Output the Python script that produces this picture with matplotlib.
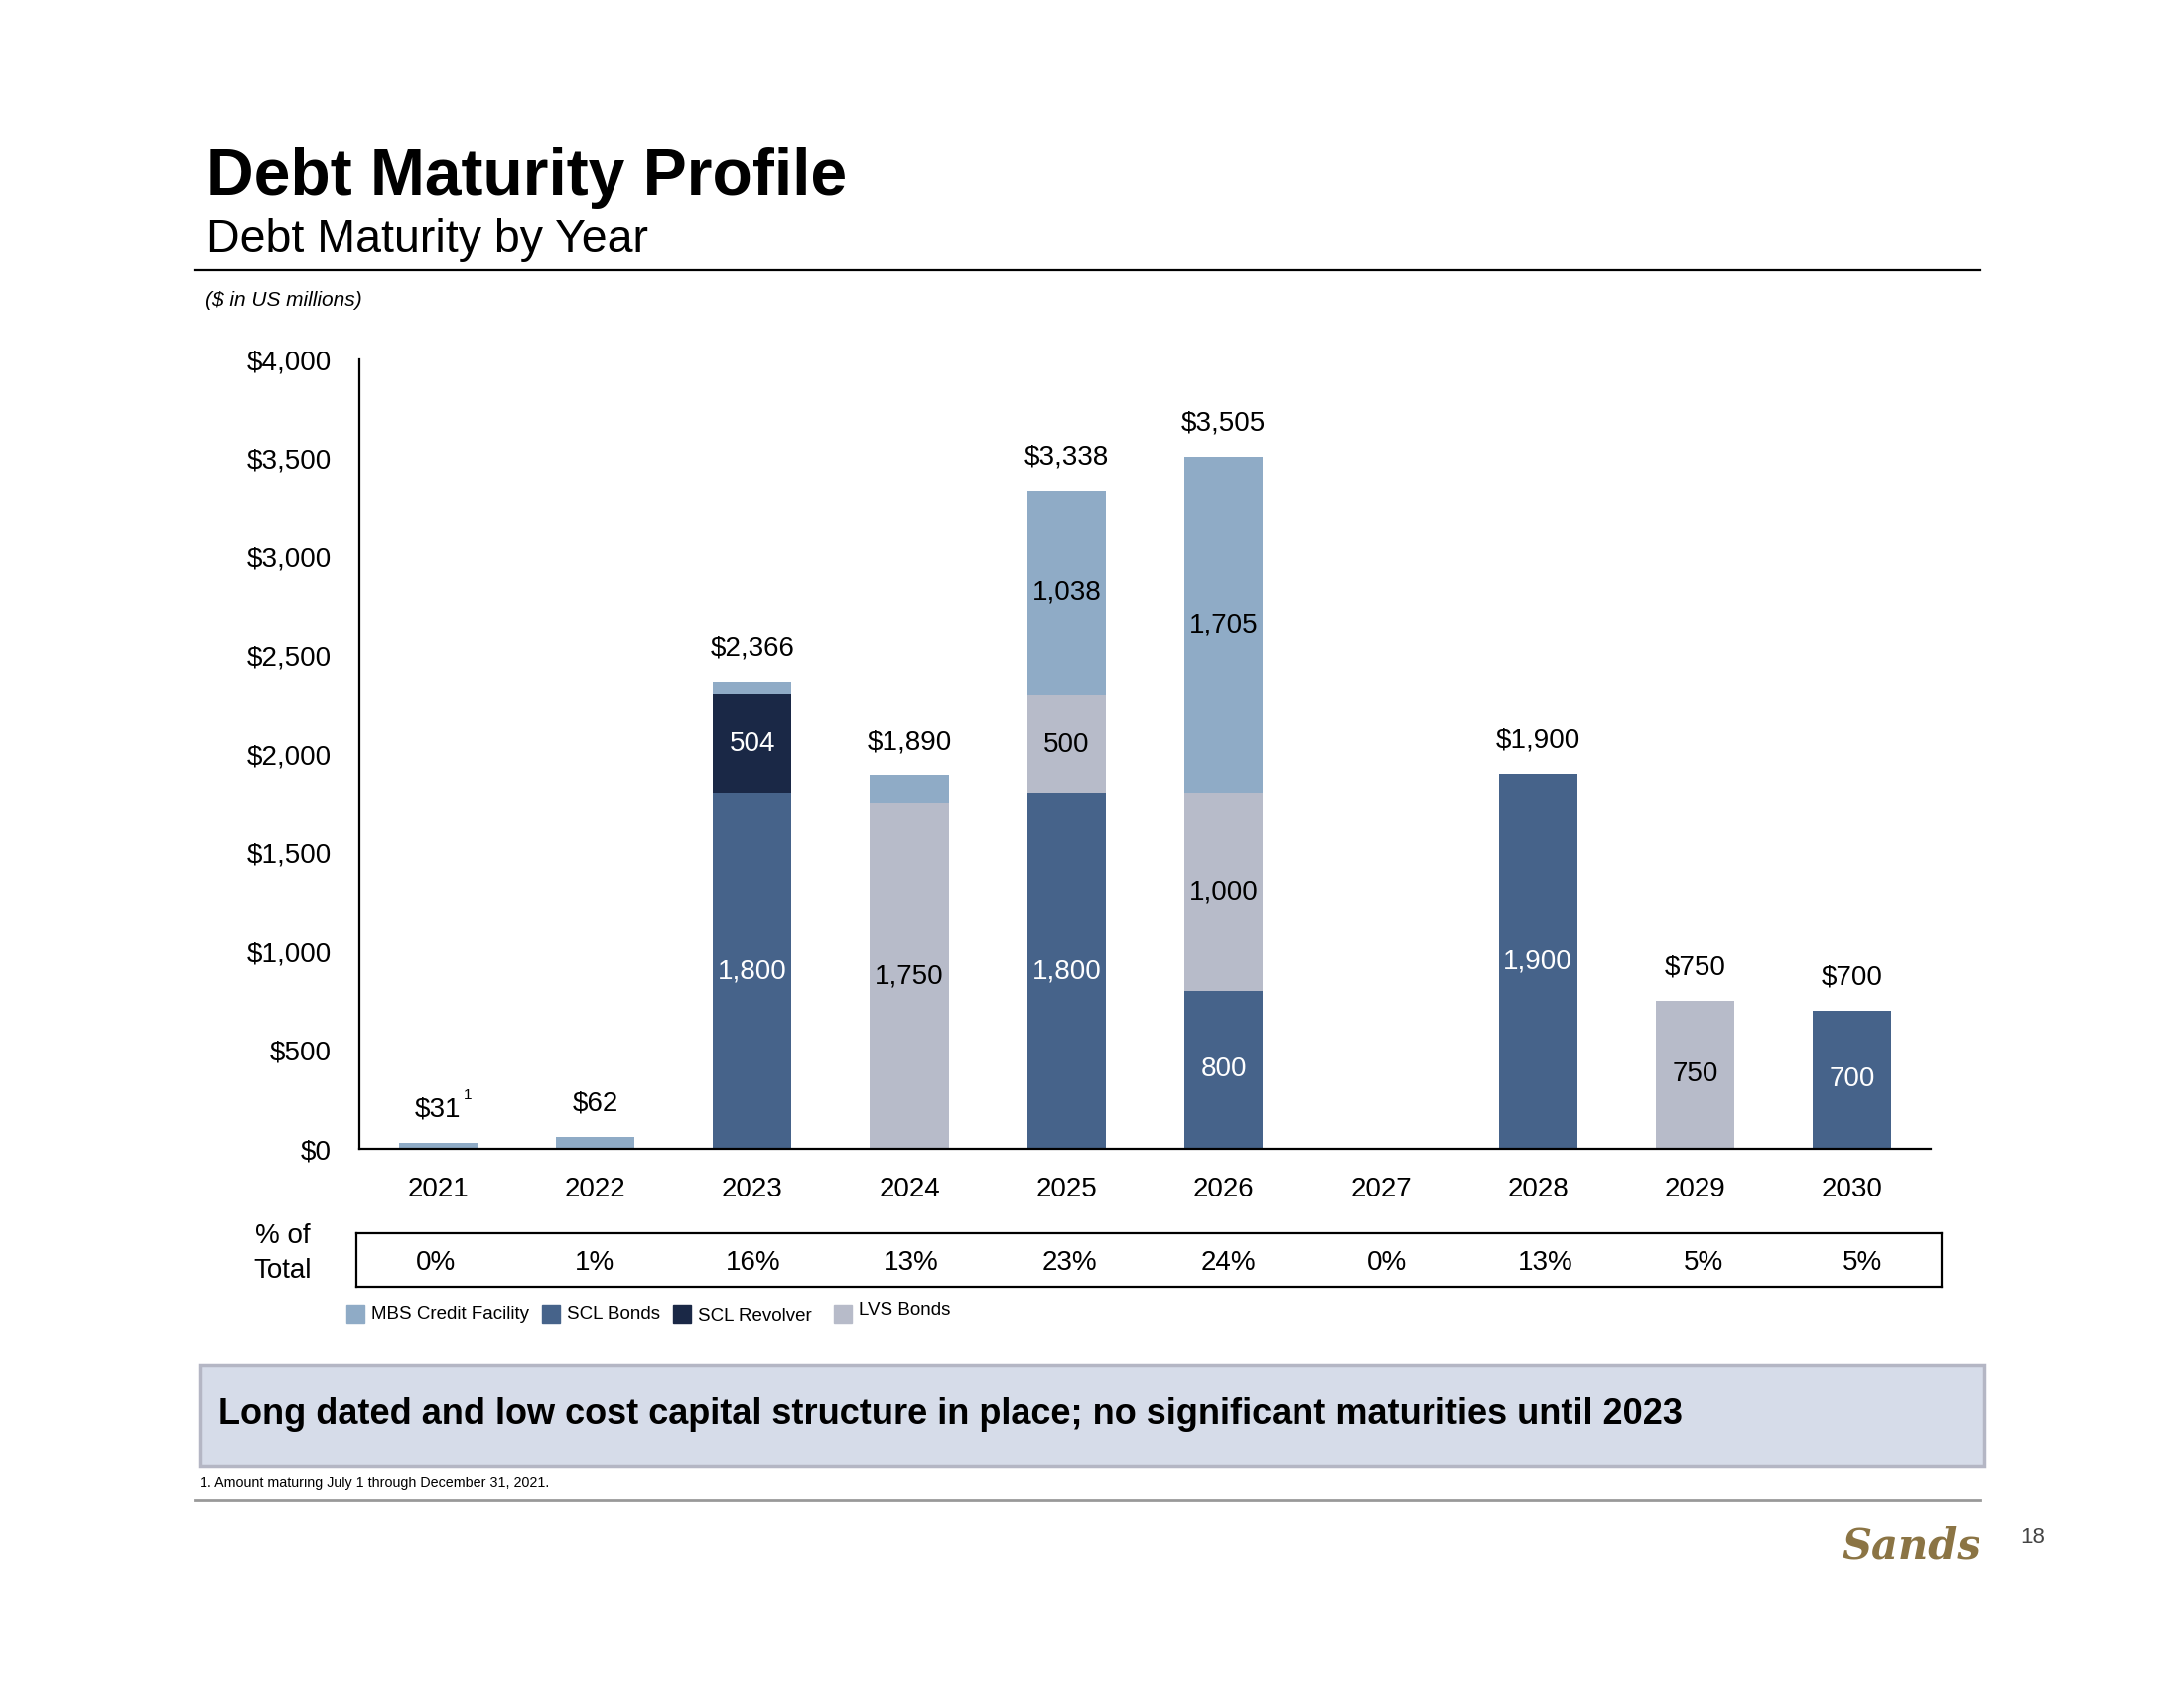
import numpy as np
import matplotlib
matplotlib.use("Agg")
import matplotlib.pyplot as plt
from matplotlib import font_manager
from matplotlib.patches import Rectangle

# data ($ in US millions)
years = ["2021", "2022", "2023", "2024", "2025", "2026", "2027", "2028", "2029", "2030"]
scl_bonds = [0, 0, 1800, 0, 1800, 800, 0, 1900, 0, 700]
scl_revolver = [0, 0, 504, 0, 0, 0, 0, 0, 0, 0]
lvs_bonds = [0, 0, 0, 1750, 500, 1000, 0, 0, 750, 0]
mbs_credit = [31, 62, 62, 140, 1038, 1705, 0, 0, 0, 0]
pct_total = ["0%", "1%", "16%", "13%", "23%", "24%", "0%", "13%", "5%", "5%"]
yticks = [0, 500, 1000, 1500, 2000, 2500, 3000, 3500, 4000]

C_MBS = "#8fabc6"
C_SCL = "#46638a"
C_REV = "#1a2846"
C_LVS = "#b7bbc9"

names = {f.name for f in font_manager.fontManager.ttflist}
NARROW = "Liberation Sans Narrow" if "Liberation Sans Narrow" in names else "Liberation Sans"
plt.rcParams["font.family"] = [NARROW, "DejaVu Sans"]
FS = 20  # main label size

W, H = 2200, 1700
fig = plt.figure(figsize=(22, 17), dpi=100)


def fx(px):
    return px / W


def fy(py):
    return 1 - py / H


# header
fig.text(fx(208), fy(196), "Debt Maturity Profile", fontsize=47.5, fontweight="bold",
         family="Liberation Sans", va="baseline", ha="left")
fig.text(fx(208), fy(254), "Debt Maturity by Year", fontsize=33.5,
         family="Liberation Sans", va="baseline", ha="left")
fig.add_artist(plt.Line2D([fx(196), fx(1995)], [fy(272), fy(272)], color="black", lw=1.6))
fig.text(fx(207), fy(302), "($ in US millions)", fontsize=15, style="italic",
         va="center", ha="left")

# main chart
ax = fig.add_axes([fx(362), fy(1157), fx(1945) - fx(362), (1157 - 362) / H])
x = np.arange(len(years))
bw = 0.5
stacks = [(scl_bonds, C_SCL, "white"), (scl_revolver, C_REV, "white"),
          (lvs_bonds, C_LVS, "black"), (mbs_credit, C_MBS, "black")]
bottom = np.zeros(len(years))
for vals, col, tcol in stacks:
    vals = np.array(vals, dtype=float)
    ax.bar(x, vals, bw, bottom=bottom, color=col, linewidth=0)
    for i, v in enumerate(vals):
        if v >= 300:
            ax.text(x[i], bottom[i] + v / 2, f"{int(v):,}", ha="center", va="center",
                    fontsize=FS, color=tcol)
    bottom += vals

totals = bottom
for i, t in enumerate(totals):
    if t > 0:
        ax.text(x[i], t + 168, f"${int(t):,}", ha="center", va="center", fontsize=FS)
ax.text(x[0] + 0.16, totals[0] + 240, "1", ha="left", va="center", fontsize=11)

ax.set_xlim(-0.5, len(years) - 0.5)
ax.set_ylim(0, 4000)
ax.set_yticks(yticks)
ax.set_yticklabels([f"${v:,}" for v in yticks], fontsize=FS)
ax.set_xticks(x)
ax.set_xticklabels(years, fontsize=FS)
ax.tick_params(axis="both", length=0)
ax.tick_params(axis="y", pad=20)
ax.tick_params(axis="x", pad=20)
for s in ["top", "right"]:
    ax.spines[s].set_visible(False)
for s in ["left", "bottom"]:
    ax.spines[s].set_linewidth(1.6)

# % of total box
tax = fig.add_axes([fx(359), fy(1296), fx(1956) - fx(359), 54 / H])
tax.set_xlim(0, len(pct_total))
tax.set_ylim(0, 1)
tax.set_xticks([])
tax.set_yticks([])
for s in tax.spines.values():
    s.set_linewidth(1.6)
for i, p in enumerate(pct_total):
    tax.text(i + 0.5, 0.45, p, ha="center", va="center", fontsize=FS)
fig.text(fx(285), fy(1245), "% of", ha="center", va="center", fontsize=FS)
fig.text(fx(285), fy(1280), "Total", ha="center", va="center", fontsize=FS)

# legend
leg_items = [("MBS Credit Facility", C_MBS, 349, 1323), ("SCL Bonds", C_SCL, 546, 1323),
             ("SCL Revolver", C_REV, 678, 1326), ("LVS Bonds", C_LVS, 840, 1320)]
for lab, col, lx, ly in leg_items:
    fig.add_artist(Rectangle((fx(lx), fy(1332)), 18 / W, 18 / H, color=col,
                             transform=fig.transFigure))
    fig.text(fx(lx + 25), fy(ly), lab, ha="left", va="center", fontsize=13.5)

# banner
fig.add_artist(Rectangle((fx(201), fy(1476)), (1999 - 201) / W, (1476 - 1375) / H,
                         facecolor="#d6dce9", edgecolor="#b4b6c4", lw=2.5,
                         transform=fig.transFigure))
fig.text(fx(220), fy(1425), "Long dated and low cost capital structure in place; no significant maturities until 2023",
         ha="left", va="center", fontsize=26, fontweight="bold")

# footnote
fig.text(fx(201), fy(1494), "1. Amount maturing July 1 through December 31, 2021.",
         ha="left", va="center", fontsize=10.3)
fig.add_artist(plt.Line2D([fx(196), fx(1995)], [fy(1511), fy(1511)], color="#999999", lw=2))

# logo and page number
fig.text(fx(1925), fy(1557), "Sands", ha="center", va="center", fontsize=30,
         family="DejaVu Serif", style="italic", fontweight="bold", color="#8b7444")
fig.text(fx(2048), fy(1548), "18", ha="center", va="center", fontsize=16,
         family="Liberation Sans", color="#444444")

fig.savefig("out.png", dpi=100, facecolor="white")
